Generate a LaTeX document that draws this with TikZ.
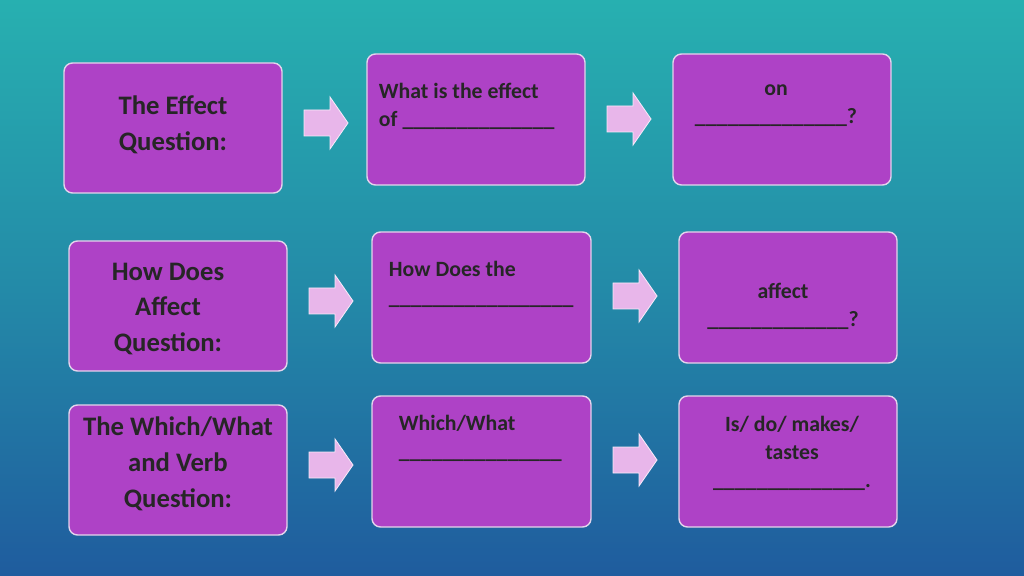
\documentclass[tikz,border=0pt]{standalone}
\usepackage{fontspec}
\setmainfont{Carlito}
\definecolor{boxfill}{HTML}{AE42C6}
\definecolor{boxline}{HTML}{E4D4EC}
\definecolor{arrfill}{HTML}{E8B6EA}
\definecolor{bgtop}{HTML}{27B0B0}
\definecolor{bgbot}{HTML}{1F5C9E}
\tikzset{
  card/.style={draw=boxline, line width=1pt, fill=boxfill, rounded corners=6pt},
  bigt/.style={font=\bfseries\fontsize{19}{25.5}\selectfont, text=black!85, align=center},
  smt/.style={font=\bfseries\fontsize{15.5}{20}\selectfont, text=black!85},
  parrow/.style={draw=white!70!arrfill, fill=arrfill, line width=0.6pt, line join=miter}
}
\newcommand{\blank}[1]{\foreach \i in {1,...,#1}{\_}}
\newcommand{\parr}[2]{\draw[parrow] (#1-22,#2-13) -- (#1+4,#2-13) -- (#1+4,#2-26) -- (#1+22,#2) -- (#1+4,#2+26) -- (#1+4,#2+13) -- (#1-22,#2+13) -- cycle;}
\begin{document}
\begin{tikzpicture}[x=0.025cm,y=-0.025cm]
\shade[top color=bgtop, bottom color=bgbot, middle color=bgtop!55!bgbot] (0,0) rectangle (1024,576);
\useasboundingbox (0,0) rectangle (1024,576);
% row 1
\draw[card] (64,63) rectangle (282,193); \node[bigt] (l1) at (173,125) {The Effect\\Question:};
\draw[card] (367,54) rectangle (585,185);
\node[smt, anchor=north west, align=left] (m1) at (374,78) {What is the effect\\of \blank{14}};
\draw[card] (673,54) rectangle (891,185);
\node[smt, align=center] (r1) at (776,106) {on\\\blank{14}?};
\parr{326}{123}
\parr{629}{119}
% row 2
\draw[card] (69,241) rectangle (287,371); \node[bigt] (l2) at (168,309) {How Does\\Affect\\Question:};
\draw[card] (372,232) rectangle (591,363);
\node[smt, anchor=north west, align=left] (m2) at (384,256) {How Does the\\\blank{17}};
\draw[card] (679,232) rectangle (897,363);
\node[smt, align=center] (r2) at (783,306) {affect\\\blank{13}?};
\parr{331}{301}
\parr{635}{296}
% row 3
\draw[card] (69,405) rectangle (287,535); \node[bigt] (l3) at (178,464) {The Which/What\\and Verb\\Question:};
\draw[card] (372,396) rectangle (591,527);
\node[smt, anchor=north west, align=left] (m3) at (394,410) {Which/What\\\blank{15}};
\draw[card] (679,396) rectangle (897,527);
\node[smt, align=center] (r3) at (792,453) {Is/ do/ makes/\\tastes\\\blank{14}.};
\parr{331}{465}
\parr{635}{460}
\end{tikzpicture}
\end{document}
